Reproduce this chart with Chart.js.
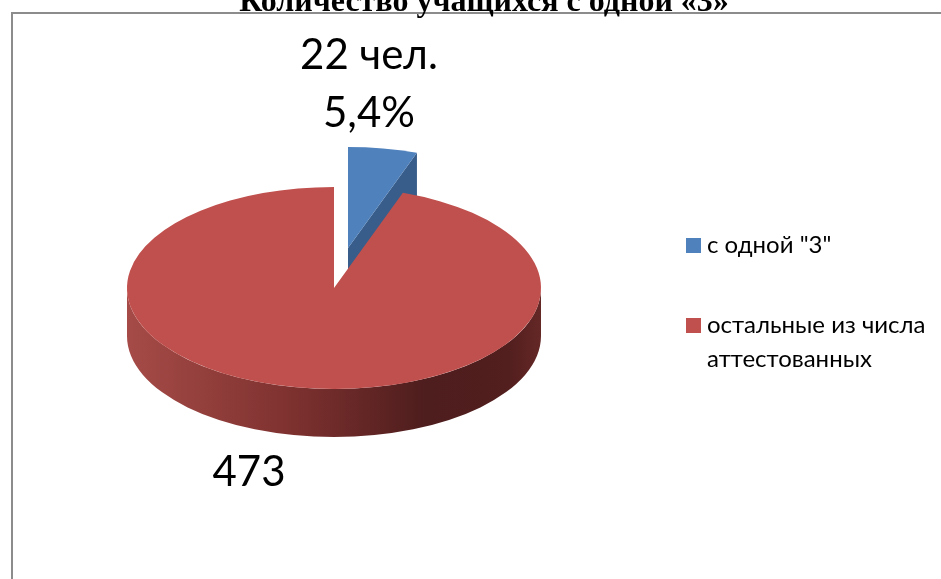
<!DOCTYPE html>
<html>
<head>
<meta charset="utf-8">
<script src="https://cdn.jsdelivr.net/npm/chart.js@4"></script>
<style>
  html, body { margin: 0; padding: 0; background: #fff; }
  #wrap { position: relative; width: 941px; height: 579px; }
</style>
</head>
<body>
<div id="wrap"><canvas id="chart"></canvas></div>
<script>
const title = 'Количество учащихся с одной «3»'
const categories = ['с одной "3"', ['остальные из числа', 'аттестованных']]
const shares = [5.4, 94.6]
const valueLabels = [['22 чел.', '5,4%'], ['473']]

const colors = ['#4f81bd', '#c0504d']
const sideColors = ['#385d8a', null]
const explode = [83, 0]
const squash = 0.488
const depth = 48

// pie drawn flat, then squashed and given a side wall to mimic the 3D look
const pie3d = {
    id: 'pie3d',
    beforeDraw(chart) {
        const ctx = chart.ctx
        ctx.save()
        ctx.strokeStyle = '#8c8c8c'
        ctx.lineWidth = 2
        ctx.strokeRect(12, 13, 960, 600)
        ctx.fillStyle = '#000'
        ctx.font = 'bold 32px "Liberation Serif"'
        ctx.textAlign = 'center'
        ctx.textBaseline = 'alphabetic'
        ctx.fillText(title, 484, 11)
        ctx.restore()
    },
    beforeDatasetsDraw(chart) {
        const ctx = chart.ctx
        const arcs = chart.getDatasetMeta(0).data
        const cx = arcs[0].x, cy = arcs[0].y
        const dz = depth / squash
        ctx.save()
        ctx.translate(cx, cy)
        ctx.scale(1, squash)
        ctx.translate(-cx, -cy)
        arcs.forEach((arc, i) => {
            const { startAngle, endAngle, outerRadius: r } = arc
            const mid = (startAngle + endAngle) / 2
            const ox = cx + Math.cos(mid) * explode[i]
            const oy = cy + Math.sin(mid) * explode[i]
            // outer wall, front half only
            const a0 = Math.max(startAngle, 0), a1 = Math.min(endAngle, Math.PI)
            if (a1 > a0) {
                const g = ctx.createLinearGradient(ox - r, 0, ox + r, 0)
                g.addColorStop(0, '#a64b47')
                g.addColorStop(0.4, '#7d312f')
                g.addColorStop(0.72, '#4e1d1d')
                g.addColorStop(0.92, '#521e1e')
                g.addColorStop(1, '#642826')
                ctx.beginPath()
                ctx.arc(ox, oy, r, a0, a1)
                ctx.arc(ox, oy + dz, r, a1, a0, true)
                ctx.closePath()
                ctx.fillStyle = sideColors[i] || g
                ctx.fill()
            }
            // radial face at the end edge
            if (Math.cos(endAngle) > 0.01) {
                const ex = ox + Math.cos(endAngle) * r, ey = oy + Math.sin(endAngle) * r
                ctx.beginPath()
                ctx.moveTo(ox, oy)
                ctx.lineTo(ex, ey)
                ctx.lineTo(ex, ey + dz)
                ctx.lineTo(ox, oy + dz)
                ctx.closePath()
                ctx.fillStyle = sideColors[i] || '#6e2a28'
                ctx.fill()
            }
        })
        // top faces, drawn by the arc elements themselves
        arcs.forEach((arc, i) => {
            const mid = (arc.startAngle + arc.endAngle) / 2
            ctx.save()
            ctx.translate(Math.cos(mid) * explode[i], Math.sin(mid) * explode[i])
            arc.draw(ctx)
            ctx.restore()
        })
        ctx.restore()
        return false
    },
    afterDraw(chart) {
        const ctx = chart.ctx
        const arcs = chart.getDatasetMeta(0).data
        const nudges = [[-14, -21.5, -58.5], [-50, 50, 0]]
        ctx.save()
        ctx.fillStyle = '#000'
        ctx.textAlign = 'center'
        ctx.textBaseline = 'alphabetic'
        ctx.font = '42px Lato'
        arcs.forEach((arc, i) => {
            const { x: cx, y: cy, startAngle, endAngle, outerRadius: r } = arc
            const mid = (startAngle + endAngle) / 2
            const px = cx + Math.cos(mid) * (explode[i] + r)
            let py = cy + Math.sin(mid) * (explode[i] + r) * squash
            if (Math.sin(mid) > 0) py += depth
            const lines = valueLabels[i]
            const [nx, ny, step] = nudges[i]
            for (let k = 0; k < lines.length; k++) {
                const line = lines[lines.length - 1 - k]
                ctx.fillText(line, px + nx, py + ny + k * step)
            }
        })
        // legend
        ctx.textAlign = 'left'
        ctx.font = '24px Lato'
        const legendTops = [238, 318]
        categories.forEach((label, i) => {
            const lines = Array.isArray(label) ? label : [label]
            const top = legendTops[i]
            ctx.fillStyle = colors[i]
            ctx.fillRect(686, top, 15, 15)
            ctx.fillStyle = '#000'
            lines.forEach((line, j) => ctx.fillText(line, 707, top + 15 + j * 34))
        })
        ctx.restore()
    }
}

new Chart(document.getElementById('chart'), {
    type: 'pie',
    data: {
        labels: categories,
        datasets: [{
            data: shares,
            backgroundColor: colors,
            borderWidth: 0,
            radius: 207,
            clip: false,
        }]
    },
    options: {
        responsive: true,
        maintainAspectRatio: false,
        animation: false,
        events: [],
        layout: { padding: { left: 0, right: 273, top: 0, bottom: 3 } },
        plugins: {
            legend: { display: false },
            tooltip: { enabled: false },
            title: { display: false },
        }
    },
    plugins: [pie3d]
})
</script>
</body>
</html>
